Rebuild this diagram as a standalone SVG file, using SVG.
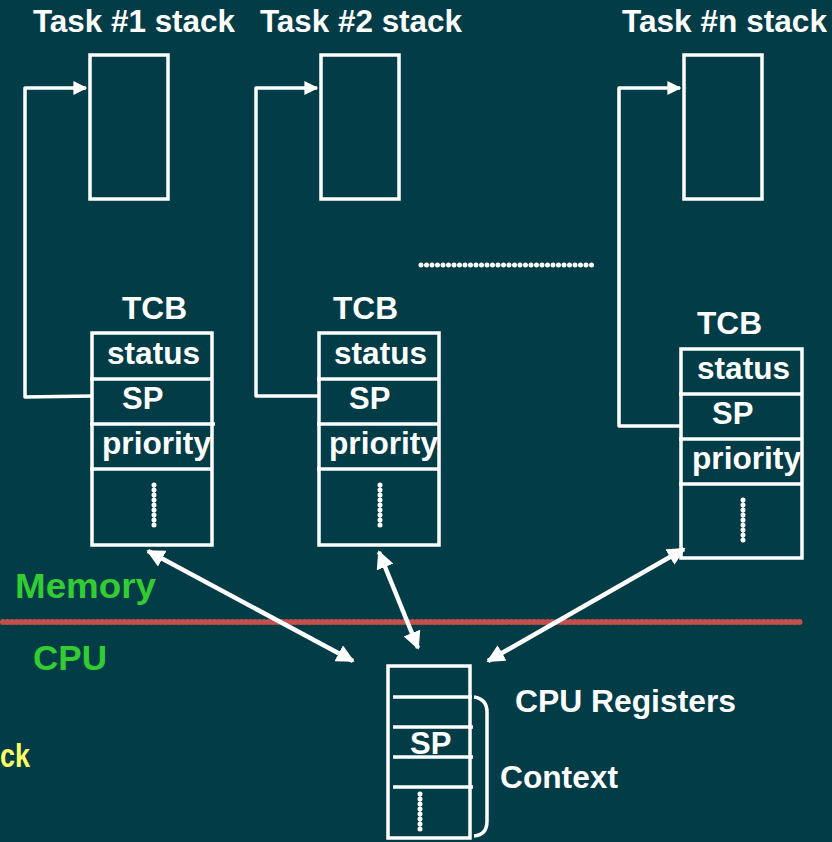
<svg xmlns="http://www.w3.org/2000/svg" width="832" height="842" viewBox="0 0 832 842">
  <defs>
    <style>
      .bg { fill: #023c47; }
      .box { fill: none; stroke: #ffffff; stroke-width: 3.5; }
      .wire { fill: none; stroke: #ffffff; stroke-width: 3.5; stroke-linejoin: round; }
      .link { fill: none; stroke: #ffffff; stroke-width: 4.5; }
      .dots { stroke: #ffffff; stroke-width: 5; stroke-linecap: round; stroke-dasharray: 0 5; fill: none; }
      .lbl { font-family: "Liberation Sans", Arial, sans-serif; font-weight: bold; fill: #ffffff; }
      .t30 { font-size: 31px; }
      .green { font-family: "Liberation Sans", Arial, sans-serif; font-weight: bold; font-size: 35px; fill: #33cc33; }
    </style>
    <marker id="head" viewBox="0 0 10 10" refX="9" refY="5" markerWidth="4" markerHeight="4" orient="auto-start-reverse" markerUnits="strokeWidth">
      <path d="M0,0 L10,5 L0,10 z" fill="#ffffff"/>
    </marker>
  </defs>

  <rect class="bg" x="0" y="0" width="832" height="842"/>

  <!-- stack titles -->
  <g id="titles" class="lbl t30">
    <text x="33" y="32" textLength="202" lengthAdjust="spacingAndGlyphs">Task #1 stack</text>
    <text x="260" y="32" textLength="202" lengthAdjust="spacingAndGlyphs">Task #2 stack</text>
    <text x="622" y="32" textLength="205" lengthAdjust="spacingAndGlyphs">Task #n stack</text>
  </g>

  <!-- task stacks -->
  <g id="stack1"><rect class="box" x="90" y="55" width="78" height="144"/></g>
  <g id="stack2"><rect class="box" x="321" y="55" width="78" height="144"/></g>
  <g id="stackn"><rect class="box" x="684" y="55" width="78" height="144"/></g>

  <!-- ellipsis between task 2 and task n -->
  <line class="dots" x1="421" y1="265" x2="597" y2="265" style="stroke-width:5;stroke-dasharray:0 5.5"/>

  <!-- TCB 1 -->
  <g id="tcb1">
    <text class="lbl t30" x="122" y="319" textLength="65" lengthAdjust="spacingAndGlyphs">TCB</text>
    <rect class="box" x="92" y="333" width="120" height="212"/>
    <line class="box" x1="90" y1="379" x2="213" y2="379"/>
    <line class="box" x1="90" y1="424" x2="215" y2="424"/>
    <line class="box" x1="90" y1="469" x2="213" y2="469"/>
    <text class="lbl t30" x="107" y="364" textLength="93" lengthAdjust="spacingAndGlyphs">status</text>
    <text class="lbl t30" x="122" y="409">SP</text>
    <text class="lbl t30" x="102" y="454" textLength="109" lengthAdjust="spacingAndGlyphs">priority</text>
    <line class="dots" x1="154" y1="485" x2="154" y2="527"/>
  </g>

  <!-- TCB 2 -->
  <g id="tcb2">
    <text class="lbl t30" x="333" y="319" textLength="65" lengthAdjust="spacingAndGlyphs">TCB</text>
    <rect class="box" x="319" y="333" width="120" height="212"/>
    <line class="box" x1="317" y1="379" x2="440" y2="379"/>
    <line class="box" x1="317" y1="424" x2="440" y2="424"/>
    <line class="box" x1="317" y1="469" x2="440" y2="469"/>
    <text class="lbl t30" x="334" y="364" textLength="93" lengthAdjust="spacingAndGlyphs">status</text>
    <text class="lbl t30" x="349" y="409">SP</text>
    <text class="lbl t30" x="329" y="454" textLength="109" lengthAdjust="spacingAndGlyphs">priority</text>
    <line class="dots" x1="380" y1="485" x2="380" y2="527"/>
  </g>

  <!-- TCB n -->
  <g id="tcbn">
    <text class="lbl t30" x="697" y="334" textLength="65" lengthAdjust="spacingAndGlyphs">TCB</text>
    <rect class="box" x="681" y="349" width="121" height="209"/>
    <line class="box" x1="679" y1="394" x2="802" y2="394"/>
    <line class="box" x1="679" y1="439" x2="802" y2="439"/>
    <line class="box" x1="679" y1="484" x2="802" y2="484"/>
    <text class="lbl t30" x="697" y="379" textLength="93" lengthAdjust="spacingAndGlyphs">status</text>
    <text class="lbl t30" x="712" y="424">SP</text>
    <text class="lbl t30" x="692" y="469" textLength="109" lengthAdjust="spacingAndGlyphs">priority</text>
    <line class="dots" x1="743" y1="500" x2="743" y2="542"/>
  </g>

  <!-- memory / cpu boundary -->
  <g id="boundary">
    <text class="green" x="15" y="598" textLength="141" lengthAdjust="spacingAndGlyphs">Memory</text>
    <line x1="3" y1="622" x2="800" y2="622" stroke="#c4504e" stroke-width="6" stroke-linecap="round" stroke-dasharray="0 4.5"/>
    <text class="green" x="33" y="670" textLength="74" lengthAdjust="spacingAndGlyphs">CPU</text>
  </g>

  <text id="stack-label" x="0" y="767" font-family="Liberation Sans, Arial, sans-serif" font-weight="bold" font-size="34" fill="#ffff66" textLength="30" lengthAdjust="spacingAndGlyphs">ck</text>

  <!-- CPU register file -->
  <g id="cpu">
    <rect class="box" x="388" y="666" width="82" height="172"/>
    <line class="box" x1="393" y1="697" x2="472" y2="697"/>
    <line class="box" x1="393" y1="727" x2="473" y2="727"/>
    <line class="box" x1="393" y1="757" x2="473" y2="757"/>
    <line class="box" x1="393" y1="787" x2="473" y2="787"/>
    <text class="lbl t30" x="410" y="754">SP</text>
    <line class="dots" x1="420" y1="794" x2="420" y2="834"/>
    <path class="wire" d="M474,697 Q487,699 487,712 L487,821 Q487,835 474,836"/>
    <text class="lbl t30" x="515" y="712" textLength="221" lengthAdjust="spacingAndGlyphs">CPU Registers</text>
    <text class="lbl t30" x="500" y="788" textLength="118" lengthAdjust="spacingAndGlyphs">Context</text>
  </g>

  <!-- connectors -->
  <g id="connectors">
    <polyline class="wire" points="92,396 25,397 25,88 86,88" marker-end="url(#head)"/>
    <polyline class="wire" points="319,396 256,396 256,88 317,88" marker-end="url(#head)"/>
    <polyline class="wire" points="681,426 619,426 619,88 680,88" marker-end="url(#head)"/>
    <line class="link" x1="148" y1="551" x2="353" y2="661" marker-start="url(#head)" marker-end="url(#head)"/>
    <line class="link" x1="379" y1="552" x2="418" y2="648" marker-start="url(#head)" marker-end="url(#head)"/>
    <line class="link" x1="684" y1="549" x2="488" y2="661" marker-start="url(#head)" marker-end="url(#head)"/>
  </g>
</svg>
